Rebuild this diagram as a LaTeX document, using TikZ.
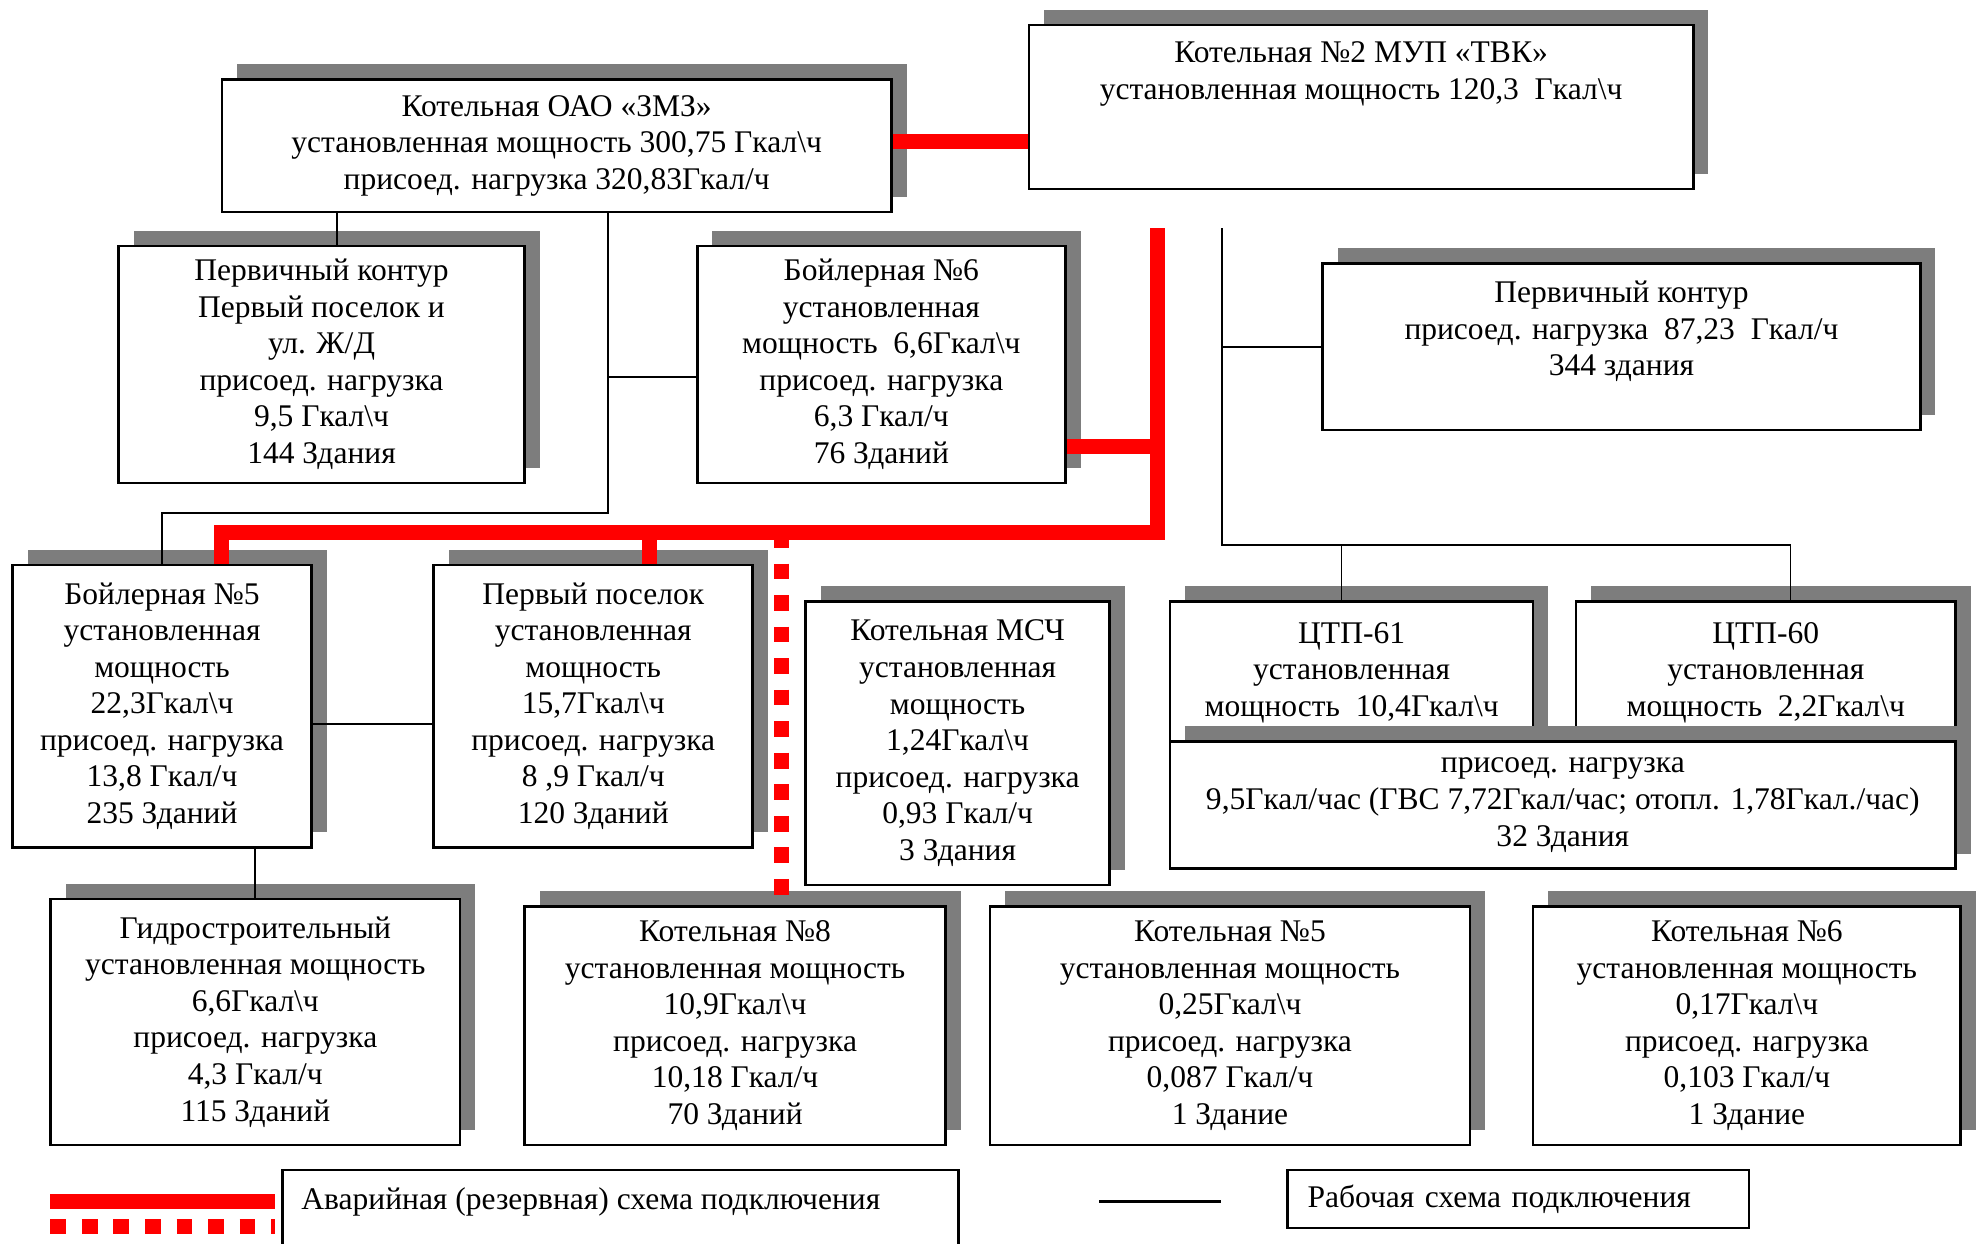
\documentclass[tikz,border=0pt]{standalone}
\usepackage{fontspec}
\setmainfont{Liberation Serif}
\usetikzlibrary{shadows}
\definecolor{krasny}{RGB}{255,0,0}
\definecolor{ten}{RGB}{125,125,125}
\tikzset{
  blk/.style={draw, line width=1pt, fill=white, align=center, inner sep=0pt,
    font=\fontsize{12.5}{14.5}\selectfont,
    drop shadow={shadow xshift=6pt, shadow yshift=6pt, opacity=1, fill=ten}},
  leg/.style={draw, line width=1pt, align=left, inner xsep=8pt, inner ysep=0pt,
    font=\fontsize{12.5}{14.5}\selectfont},
  avar/.style={krasny, line width=6pt},
  avard/.style={krasny, line width=6pt, dash pattern=on 6.25pt off 6.25pt},
  rab/.style={black, line width=0.7pt},
}
\newcommand{\gk}{Гкал\textbackslash ч}

\begin{document}
\begin{tikzpicture}[x=0.5pt, y=-0.5pt]
\useasboundingbox (0,0) rectangle (1568,986.6);

% верхний ряд
\node[blk, minimum width=265.5pt, minimum height=52.5pt] (zmz) at (441.5,115.5)
  {Котельная ОАО «ЗМЗ»\\установленная мощность 300,75 \gk\\присоед. нагрузка 320,83Гкал/ч};
\node[blk, minimum width=263.5pt, minimum height=65pt] (tvk) at (1079.5,85)
  {Котельная №2 МУП «ТВК»\\установленная мощность 120,3\ \ \gk\\\mbox{}\\\mbox{}};

% второй ряд
\node[blk, minimum width=161pt, minimum height=94pt] (perv1) at (255,289)
  {Первичный контур\\Первый поселок и\\ул. Ж/Д\\присоед. нагрузка\\9,5 \gk\\144 Здания};
\node[blk, minimum width=146pt, minimum height=94pt] (boil6) at (699,289)
  {Бойлерная №6\\установленная\\мощность\ \ 6,6\gk\\присоед. нагрузка\\6,3 Гкал/ч\\76 Зданий};
\node[blk, minimum width=237pt, minimum height=66pt] (perv2) at (1286,275)
  {Первичный контур\\присоед. нагрузка\ \ 87,23\ \ Гкал/ч\\344 здания\\\mbox{}};

% третий ряд
\node[blk, minimum width=118.5pt, minimum height=112pt] (boil5) at (128.5,560)
  {Бойлерная №5\\установленная\\мощность\\22,3\gk\\присоед. нагрузка\\13,8 Гкал/ч\\235 Зданий};
\node[blk, minimum width=126.5pt, minimum height=112pt] (pervpos) at (470.5,560)
  {Первый поселок\\установленная\\мощность\\15,7\gk\\присоед. нагрузка\\8 ,9 Гкал/ч\\120 Зданий};
\node[blk, minimum width=120.5pt, minimum height=112.5pt] (msc) at (759.5,589.5)
  {Котельная МСЧ\\установленная\\мощность\\1,24\gk\\присоед. нагрузка\\0,93 Гкал/ч\\3 Здания};
\node[blk, minimum width=144pt, minimum height=56.5pt] (ctp61) at (1072,533.5)
  {ЦТП-61\\установленная\\мощность\ \ 10,4\gk};
\node[blk, minimum width=150.5pt, minimum height=56.5pt] (ctp60) at (1400.5,533.5)
  {ЦТП-60\\установленная\\мощность\ \ 2,2\gk};
\node[blk, minimum width=311.5pt, minimum height=50.5pt] (ctpload) at (1239.5,638.5)
  {присоед. нагрузка\\9,5Гкал/час (ГВС 7,72Гкал/час; отопл. 1,78Гкал./час)\\32 Здания};

% нижний ряд
\node[blk, minimum width=162.5pt, minimum height=97.5pt] (gidro) at (202.5,810.5)
  {Гидростроительный\\установленная мощность\\6,6\gk\\присоед. нагрузка\\4,3 Гкал/ч\\115 Зданий};
\node[blk, minimum width=167pt, minimum height=94.5pt] (kot8) at (583,813.5)
  {Котельная №8\\установленная мощность\\10,9\gk\\присоед. нагрузка\\10,18 Гкал/ч\\70 Зданий};
\node[blk, minimum width=190.5pt, minimum height=94.5pt] (kot5) at (975.5,813.5)
  {Котельная №5\\установленная мощность\\0,25\gk\\присоед. нагрузка\\0,087 Гкал/ч\\1 Здание};
\node[blk, minimum width=169.5pt, minimum height=94.5pt] (kot6) at (1385.5,813.5)
  {Котельная №6\\установленная мощность\\0,17\gk\\присоед. нагрузка\\0,103 Гкал/ч\\1 Здание};

% рабочая схема
\coordinate (xa) at (267,0);
\coordinate (xb) at (482,0);
\coordinate (yb) at (0,407);
\coordinate (yc) at (0,299);
\coordinate (yd) at (0,574);
\draw[rab] (xa |- zmz.south) -- (xa |- perv1.north);
\draw[rab] (xb |- zmz.south) -- (xb |- yb) -| (boil5.north);
\draw[rab] (xb |- yc) -- (boil6.west |- yc);
\draw[rab] (boil5.east |- yd) -- (pervpos.west |- yd);
\draw[rab] (gidro.north) -- (gidro.north |- boil5.south);

\coordinate (ttop) at (969,181);
\coordinate (ye) at (0,432);
\coordinate (x61) at (1064,0);
\coordinate (x60) at (1420,0);
\draw[rab] (ttop) -- (ttop |- ye) -| (x60 |- ctp60.north);
\draw[rab] (x61 |- ye) -- (x61 |- ctp61.north);
\draw[rab] (ttop |- perv2.west) -- (perv2.west);

% аварийная схема
\coordinate (rtop) at (918,181);
\coordinate (rmid) at (918,354);
\coordinate (rbot) at (918,422);
\coordinate (x5) at (176,0);
\coordinate (xp) at (515,0);
\coordinate (xd) at (620,0);
\draw[avar] ([yshift=1.75pt]zmz.east) -- ([yshift=1.75pt]zmz.east -| tvk.west);
\draw[avar] (rtop) -- (rbot) -- (x5 |- rbot) -- (x5 |- boil5.north);
\draw[avar] (boil6.east |- rmid) -- (rmid);
\draw[avar] (xp |- rbot) -- (xp |- pervpos.north);
\draw[avard] (xd |- rbot) -- ([yshift=3pt]xd |- kot8.north);

% легенда
\draw[avar] (40,953) -- (218,953);
\draw[avard] (40,973) -- (218,973);
\draw[line width=1pt] (224,1010) -- (224,928) -- (760,928) -- (760,1010);
\node[anchor=west, font=\fontsize{12.5}{14.5}\selectfont] (leg1) at (232,953)
  {Аварийная (резервная) схема подключения};
\draw[line width=1pt] (872,953) -- (968,953);
\node[leg, text width=167pt, minimum height=23pt] (leg2) at (1204,951)
  {Рабочая схема подключения};
\end{tikzpicture}
\end{document}
